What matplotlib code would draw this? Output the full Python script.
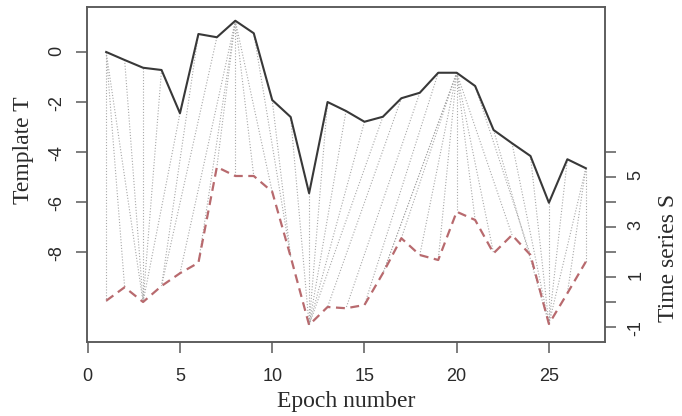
import numpy as np
import matplotlib.pyplot as plt

# values
epochs = list(range(1, 28))
template_t = [0.0, -0.32, -0.63, -0.72, -2.45, 0.72, 0.59, 1.25, 0.75, -1.92,
              -2.6, -5.65, -2.0, -2.36, -2.79, -2.59, -1.85, -1.63, -0.83, -0.83,
              -1.36, -3.12, -3.65, -4.16, -6.03, -4.29, -4.65]
series_s = [0.05, 0.59, 0.0, 0.64, 1.15, 1.57, 5.4, 5.04, 5.04, 4.41,
            1.81, -0.92, -0.2, -0.25, -0.12, 1.15, 2.55, 1.88, 1.68, 3.61,
            3.28, 1.95, 2.68, 1.88, -0.88, 0.35, 1.61]
s_offset = -10  # S is drawn shifted down by this much

# warping path (template epoch -> series epoch), one dotted line each
match_t = [1, 1, 1, 2, 3, 4, 5, 6, 7, 8, 8, 8, 8, 8, 8, 9, 10, 11, 12,
           13, 14, 15, 16, 17, 18, 19, 20, 20, 20, 20, 20, 20, 20, 20, 20, 21, 22, 23,
           24, 25, 26, 27, 27, 27]
match_s = [1, 2, 3, 3, 3, 3, 3, 4, 4, 5, 6, 7, 8, 9, 10, 11, 11, 12, 12,
           12, 12, 12, 12, 13, 14, 15, 16, 16, 17, 18, 19, 20, 21, 22, 23, 24, 25, 25,
           25, 25, 25, 25, 26, 27]

left_ticks = [0, -2, -4, -6, -8]
x_ticks = [0, 5, 10, 15, 20, 25]
right_ticks = [-1, 0, 1, 2, 3, 4, 5, 6]
right_labels = ['-1', '', '1', '', '3', '', '5', '']

axis_col = '#5a5a5a'
text_col = '#2a2a2a'
sans = 'Liberation Sans'
serif = 'Liberation Serif'

fig = plt.figure(figsize=(6.82, 4.16), dpi=100)
ax = fig.add_axes([87 / 682, 1 - 342 / 416, 518 / 682, 335 / 416])

s_shift = np.array(series_s) + s_offset
for i, j in zip(match_t, match_s):
    ax.plot([epochs[i - 1], epochs[j - 1]], [template_t[i - 1], s_shift[j - 1]],
            color='#a8a8a8', lw=0.8, ls=(0, (1, 1.6)), zorder=1)
ax.plot(epochs, template_t, color='#383838', lw=1.5, zorder=3)
ax.plot(epochs, s_shift, color='#b86a6e', lw=1.6, ls=(0, (4, 2.5)), zorder=3)

ax.set_xlim(-0.04, 28.04)
ax.set_ylim(-11.6, 1.8)
ax.set_xticks(x_ticks)
ax.set_yticks(left_ticks)
ax.set_yticklabels([str(v) for v in left_ticks])

ax2 = ax.twinx()
ax2.set_ylim(-11.6 - s_offset, 1.8 - s_offset)
ax2.set_yticks(right_ticks)
ax2.set_yticklabels(right_labels)

for a in (ax, ax2):
    for sp in a.spines.values():
        sp.set_color(axis_col)
        sp.set_linewidth(1.1)
    a.tick_params(length=8, width=1.1, color=axis_col, labelcolor=text_col,
                  labelsize=13)
ax.tick_params(axis='x', pad=11)
ax.tick_params(axis='y', pad=8, labelrotation=90)
ax2.tick_params(axis='y', pad=8, labelrotation=90)
for lab in ax.get_xticklabels() + ax.get_yticklabels() + ax2.get_yticklabels():
    lab.set_fontfamily(sans)

fig.text(346 / 682, 1 - 402 / 416, 'Epoch number', ha='center', va='center',
         fontsize=17, family=serif, color=text_col)
fig.text(23 / 682, 1 - 150 / 416, 'Template T', ha='center', va='center',
         rotation=90, fontsize=17, family=serif, color=text_col)
fig.text(668 / 682, 1 - 258 / 416, 'Time series S', ha='center', va='center',
         rotation=90, fontsize=17, family=serif, color=text_col)

fig.savefig('out.png', dpi=100)
